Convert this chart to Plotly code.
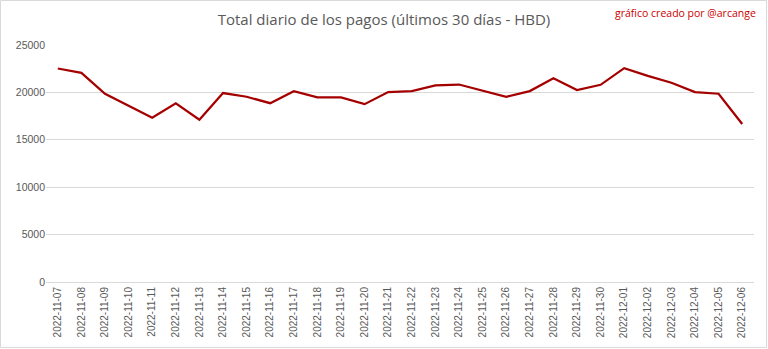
import plotly.graph_objects as go

dates = ["2022-11-07", "2022-11-08", "2022-11-09", "2022-11-10", "2022-11-11", "2022-11-12",
         "2022-11-13", "2022-11-14", "2022-11-15", "2022-11-16", "2022-11-17", "2022-11-18",
         "2022-11-19", "2022-11-20", "2022-11-21", "2022-11-22", "2022-11-23", "2022-11-24",
         "2022-11-25", "2022-11-26", "2022-11-27", "2022-11-28", "2022-11-29", "2022-11-30",
         "2022-12-01", "2022-12-02", "2022-12-03", "2022-12-04", "2022-12-05", "2022-12-06"]
payouts = [22520, 22060, 19860, 18630, 17320, 18840, 17120, 19930, 19540, 18860,
           20130, 19470, 19470, 18760, 20030, 20130, 20740, 20830, 20220, 19540,
           20140, 21500, 20240, 20800, 22560, 21740, 21020, 20040, 19860, 16670]
y_ticks = [0, 5000, 10000, 15000, 20000, 25000]

title_text = "Total diario de los pagos (últimos 30 días - HBD)"
credit_text = "gráfico creado por @arcange"

W, H = 768, 349
ML, MR, MT, MB = 46, 14, 45, 67
pw, ph = W - ML - MR, H - MT - MB

fig = go.Figure()
fig.add_trace(go.Scatter(
    x=list(range(len(dates))), y=payouts, mode="lines",
    line=dict(color="#A50000", width=2.25), hoverinfo="skip", showlegend=False,
))

fig.update_layout(
    width=W, height=H,
    margin=dict(l=ML, r=MR, t=MT, b=MB, autoexpand=False),
    paper_bgcolor="white", plot_bgcolor="white",
    font=dict(family="Open Sans, Liberation Sans, sans-serif", color="#595959"),
    title=dict(text=title_text, x=0.5, xanchor="center", xref="container",
               y=1 - 20 / H, yanchor="middle", yref="container",
               font=dict(size=15, color="#595959", family="Open Sans, sans-serif")),
    xaxis=dict(
        range=[-0.5, len(dates) - 0.5], automargin=False,
        tickmode="array", tickvals=list(range(len(dates))), ticktext=dates,
        tickangle=-90, tickfont=dict(size=10, color="#595959", family="Liberation Sans, sans-serif"),
        showgrid=False, zeroline=False, showline=True, linecolor="#d9d9d9", linewidth=1,
        ticks="", fixedrange=True,
    ),
    yaxis=dict(
        range=[0, 25000], tickmode="array", tickvals=y_ticks, automargin=False,
        ticktext=[str(v) for v in y_ticks],
        tickfont=dict(size=10.5, color="#595959", family="Liberation Sans, sans-serif"),
        showgrid=True, gridcolor="#d9d9d9", gridwidth=1, zeroline=False,
        showline=False, ticks="", ticklen=0, fixedrange=True,
    ),
    annotations=[dict(
        text=credit_text, xref="paper", yref="paper",
        x=(758 - ML) / pw, y=1 + (MT - 13) / ph, xanchor="right", yanchor="middle",
        showarrow=False, font=dict(size=10.5, color="#CC0000", family="Open Sans, sans-serif"),
    )],
    shapes=[dict(
        type="rect", xref="paper", yref="paper",
        x0=-(ML - 0.5) / pw, x1=1 + (MR - 1.5) / pw,
        y0=-(MB - 1.5) / ph, y1=1 + (MT - 0.5) / ph,
        line=dict(color="#d9d9d9", width=1), fillcolor="rgba(0,0,0,0)", layer="below",
    )],
)

fig.write_html("out.html", config={"displayModeBar": False})
